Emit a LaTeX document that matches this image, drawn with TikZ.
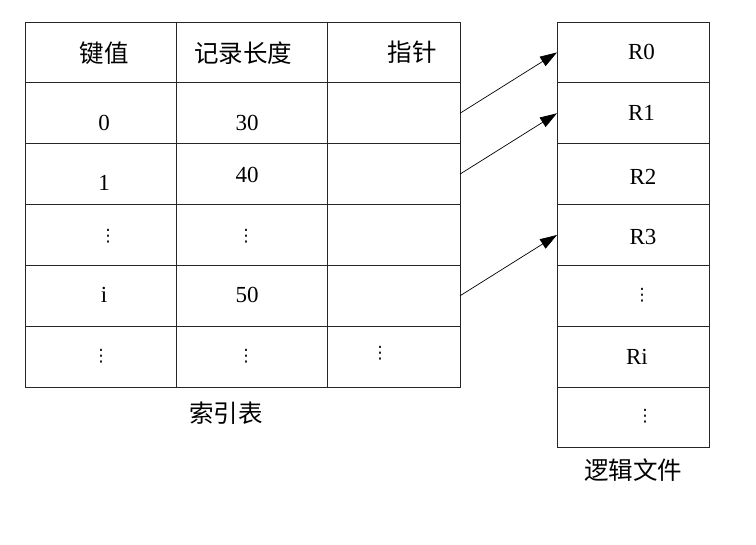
\documentclass[tikz,border=0pt]{standalone}
\usepackage{fontspec}
\setmainfont{Liberation Serif}
\newfontfamily\cjk{Noto Sans CJK SC}
\newfontfamily\dv{DejaVu Sans}
\usetikzlibrary{arrows.meta}
\begin{document}
\begin{tikzpicture}[x=1pt,y=-1pt,
  cell/.style={draw=black!85, line width=0.9pt, inner sep=0pt, outer sep=0pt, minimum height=60.85pt},
  txt/.style={inner sep=0pt, font=\fontsize{23}{27}\selectfont},
  ctxt/.style={inner sep=0pt, font=\fontsize{24.5}{28}\selectfont\cjk},
  dts/.style={inner sep=0pt, font=\fontsize{17}{20}\selectfont\dv},
  ptr/.style={draw=black, line width=0.7pt, -{Triangle[length=17pt,width=11pt]}}]
\useasboundingbox (0,0) rectangle (756,545);
% left index table
\foreach \i in {0,...,5}{
  \node[cell, minimum width=151pt] (k\i) at (100.5,{22+60.85*(\i+0.5)}) {};
  \node[cell, minimum width=151pt] (l\i) at (251.5,{22+60.85*(\i+0.5)}) {};
  \node[cell, minimum width=133pt] (p\i) at (393.5,{22+60.85*(\i+0.5)}) {};
}
% right file table
\foreach \i in {0,...,6}{
  \node[cell, minimum width=152pt] (r\i) at (633,{22+60.85*(\i+0.5)}) {};
}
% header texts
\node[ctxt] (h1) at (104,53) {键值};
\node[ctxt] (h2) at (243,53) {记录长度};
\node[ctxt] (h3) at (412,52) {指针};
% body texts
\node[txt] (a0) at (104,122.5) {0};
\node[txt] (b0) at (247,122.5) {30};
\node[txt] (a1) at (104,182.5) {1};
\node[txt] (b1) at (247,175) {40};
\node[dts] (a2) at (108,236) {⋮};
\node[dts] (b2) at (246,236) {⋮};
\node[txt] (a3) at (104,295) {i};
\node[txt] (b3) at (247,295) {50};
\node[dts] (a4) at (101,356) {⋮};
\node[dts] (b4) at (246,356) {⋮};
\node[dts] (c4) at (380,353) {⋮};
\node[ctxt] (cap1) at (226,413) {索引表};
% file texts
\node[txt] (t0) at (641.5,52) {R0};
\node[txt] (t1) at (641.5,113) {R1};
\node[txt] (t2) at (643,177) {R2};
\node[txt] (t3) at (643,237) {R3};
\node[dts] (t4) at (642,295) {⋮};
\node[txt] (t5) at (637,356.5) {Ri};
\node[dts] (t6) at (645,416) {⋮};
\node[ctxt] (cap2) at (633,470) {逻辑文件};
% pointers
\draw[ptr] (p1.east) -- (r0.west);
\draw[ptr] (p2.east) -- (r1.west);
\draw[ptr] (p4.east) -- (r3.west);
\end{tikzpicture}
\end{document}
